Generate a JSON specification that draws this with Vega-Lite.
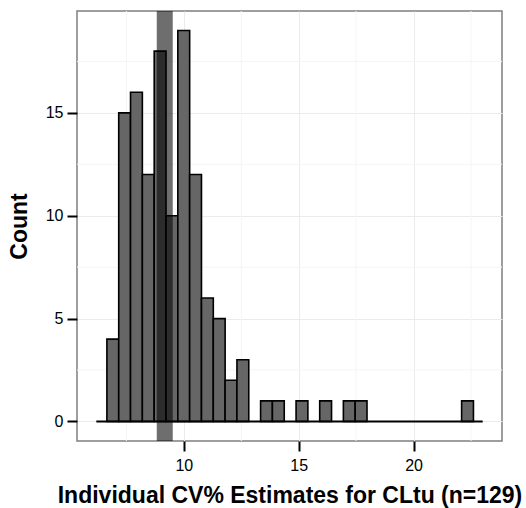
{
  "$schema": "https://vega.github.io/schema/vega-lite/v6.json",
  "width": 425,
  "height": 430,
  "autosize": "none",
  "padding": {"left": 77, "top": 11, "right": 24, "bottom": 67},
  "background": "white",
  "config": {
    "font": "Liberation Sans",
    "view": {"stroke": "#7f7f7f", "strokeWidth": 1.5}
  },
  "datasets": {
    "bins": [
      {"x0": 6.651, "x1": 7.166, "count": 4},
      {"x0": 7.166, "x1": 7.680, "count": 15},
      {"x0": 7.680, "x1": 8.195, "count": 16},
      {"x0": 8.195, "x1": 8.710, "count": 12},
      {"x0": 8.710, "x1": 9.225, "count": 18},
      {"x0": 9.225, "x1": 9.739, "count": 10},
      {"x0": 9.739, "x1": 10.254, "count": 19},
      {"x0": 10.254, "x1": 10.768, "count": 12},
      {"x0": 10.768, "x1": 11.283, "count": 6},
      {"x0": 11.283, "x1": 11.798, "count": 5},
      {"x0": 11.798, "x1": 12.312, "count": 2},
      {"x0": 12.312, "x1": 12.827, "count": 3},
      {"x0": 13.342, "x1": 13.856, "count": 1},
      {"x0": 13.856, "x1": 14.371, "count": 1},
      {"x0": 14.886, "x1": 15.400, "count": 1},
      {"x0": 15.915, "x1": 16.430, "count": 1},
      {"x0": 16.945, "x1": 17.459, "count": 1},
      {"x0": 17.459, "x1": 17.974, "count": 1},
      {"x0": 22.092, "x1": 22.607, "count": 1}
    ],
    "minorx": [{"v": 7.5}, {"v": 12.5}, {"v": 17.5}, {"v": 22.5}],
    "minory": [{"v": 2.5}, {"v": 7.5}, {"v": 12.5}, {"v": 17.5}],
    "baseline": [{"a": 6.19, "b": 23.01, "y": 0}],
    "band": [{"cv": 9.17}]
  },
  "layer": [
    {
      "data": {"name": "minorx"},
      "mark": {"type": "rule", "color": "#f5f5f5", "strokeWidth": 1},
      "encoding": {
        "x": {"field": "v", "type": "quantitative",
              "scale": {"domain": [5.35, 23.85], "nice": false, "zero": false}}
      }
    },
    {
      "data": {"name": "minory"},
      "mark": {"type": "rule", "color": "#f5f5f5", "strokeWidth": 1},
      "encoding": {
        "y": {"field": "v", "type": "quantitative",
              "scale": {"domain": [-0.95, 19.95], "nice": false, "zero": false}}
      }
    },
    {
      "data": {"name": "bins"},
      "mark": {"type": "bar", "fill": "#666666", "stroke": "black", "strokeWidth": 1.6},
      "encoding": {
        "x": {"field": "x0", "type": "quantitative",
              "scale": {"domain": [5.35, 23.85], "nice": false, "zero": false},
              "axis": {
                "title": "Individual CV% Estimates for CLtu (n=129)",
                "values": [10, 15, 20],
                "domain": false,
                "grid": true, "gridColor": "#ebebeb", "gridWidth": 1,
                "tickSize": 10, "tickWidth": 2, "tickColor": "black",
                "labelFontSize": 16, "labelColor": "black", "labelPadding": 6,
                "titleFontSize": 23, "titleFontWeight": "bold", "titleColor": "black",
                "titlePadding": 11
              }},
        "x2": {"field": "x1"},
        "y": {"field": "count", "type": "quantitative",
              "scale": {"domain": [-0.95, 19.95], "nice": false, "zero": false},
              "axis": {
                "title": "Count",
                "values": [0, 5, 10, 15],
                "domain": false,
                "grid": true, "gridColor": "#ebebeb", "gridWidth": 1,
                "tickSize": 10, "tickWidth": 2, "tickColor": "black",
                "labelFontSize": 16, "labelColor": "black", "labelPadding": 4,
                "titleFontSize": 23, "titleFontWeight": "bold", "titleColor": "black",
                "titlePadding": 14
              }},
        "y2": {"datum": 0}
      }
    },
    {
      "data": {"name": "baseline"},
      "mark": {"type": "rule", "color": "black", "strokeWidth": 2},
      "encoding": {
        "x": {"field": "a", "type": "quantitative"},
        "x2": {"field": "b"},
        "y": {"field": "y", "type": "quantitative"}
      }
    },
    {
      "data": {"name": "band"},
      "mark": {"type": "rule", "color": "black", "strokeWidth": 16, "opacity": 0.57},
      "encoding": {
        "x": {"field": "cv", "type": "quantitative"}
      }
    }
  ]
}
